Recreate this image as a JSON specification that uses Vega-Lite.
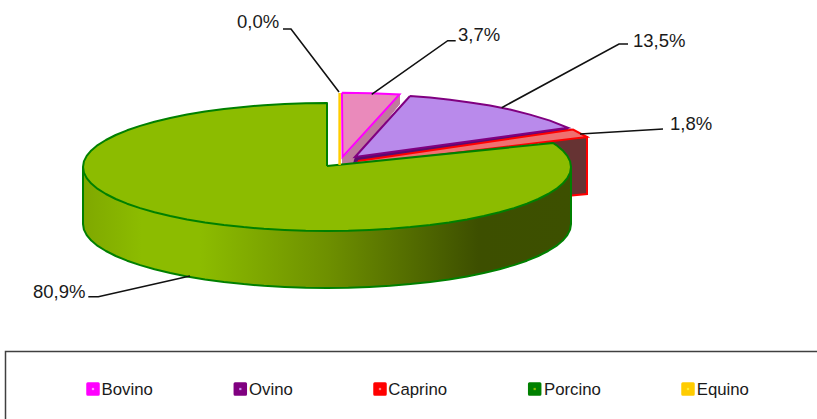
{
"$schema":"https://vega.github.io/schema/vega-lite/v6.json",
"width":817,"height":419,"padding":0,
"autosize":{"type":"none"},
"background":"white",
"config":{"view":{"stroke":null},"font":"Liberation Sans"},
"data":{"name":"contorno"},
"encoding":{
 "x":{"field":"x","type":"quantitative","axis":null,"scale":{"domain":[0,817],"nice":false,"zero":false}},
 "y":{"field":"y","type":"quantitative","axis":null,"scale":{"domain":[419,0],"nice":false,"zero":false}},
 "order":{"field":"i","type":"ordinal"}
},
"layer":[
{"transform":[{"filter":"datum.s==='bovino_lateral'"}],"mark":{"type":"line","fill":"#bf7a9d","stroke":"#bf7a9d","strokeWidth":1}},
{"transform":[{"filter":"datum.s==='bovino_cara'"}],"mark":{"type":"line","fill":"#ea8abb","stroke":"#ff00ff","strokeWidth":2,"strokeJoin":"miter"}},
{"transform":[{"filter":"datum.s==='ovino_lateral'"}],"mark":{"type":"line","fill":"#5c0a6e","stroke":"#800080","strokeWidth":1}},
{"transform":[{"filter":"datum.s==='ovino_cara'"}],"mark":{"type":"line","fill":"#b98aeb","stroke":"#800080","strokeWidth":2,"strokeJoin":"miter"}},
{"transform":[{"filter":"datum.s==='caprino_lateral'"}],"mark":{"type":"line","fill":"#663333","stroke":"#ff0000","strokeWidth":2,"strokeJoin":"miter"}},
{"transform":[{"filter":"datum.s==='caprino_cara'"}],"mark":{"type":"line","fill":"#f07070","stroke":"#ff0000","strokeWidth":2,"strokeJoin":"miter"}},
{"transform":[{"filter":"datum.s==='porcino_lateral'"}],"mark":{"type":"line","stroke":"#008000","strokeWidth":2,"strokeJoin":"round","fill":{"gradient":"linear","x1":0,"y1":0,"x2":1,"y2":0,"stops":[{"offset":0,"color":"#7fa800"},{"offset":0.12,"color":"#8cbc00"},{"offset":0.24,"color":"#8cbc00"},{"offset":0.5,"color":"#6e9000"},{"offset":0.69,"color":"#506800"},{"offset":0.81,"color":"#3d4f00"},{"offset":1,"color":"#3d5000"}]}}},
{"transform":[{"filter":"datum.s==='porcino_cara'"}],"mark":{"type":"line","fill":"#8cbc00","stroke":"#008000","strokeWidth":2,"strokeJoin":"round"}},
{"transform":[{"filter":"datum.s==='equino'"}],"mark":{"type":"line","stroke":"#ffcc00","strokeWidth":2.5}},
{"transform":[{"filter":"datum.s==='g1'"}],"mark":{"type":"line","stroke":"#111111","strokeWidth":1.6}},
{"transform":[{"filter":"datum.s==='g2'"}],"mark":{"type":"line","stroke":"#111111","strokeWidth":1.6}},
{"transform":[{"filter":"datum.s==='g3'"}],"mark":{"type":"line","stroke":"#111111","strokeWidth":1.6}},
{"transform":[{"filter":"datum.s==='g4'"}],"mark":{"type":"line","stroke":"#111111","strokeWidth":1.6}},
{"transform":[{"filter":"datum.s==='g5'"}],"mark":{"type":"line","stroke":"#111111","strokeWidth":1.6}},
{"transform":[{"filter":"datum.s==='marco'"}],"mark":{"type":"line","stroke":"#404040","strokeWidth":1.5,"clip":true}},
{"data":{"name":"etiquetas"},"mark":{"type":"text","align":"left","baseline":"alphabetic","fontSize":18.5,"fill":"#1a1a1a","font":"Liberation Sans"},"encoding":{"text":{"field":"label"}}},
{"data":{"name":"leyenda"},"mark":{"type":"point","shape":"square","filled":true,"size":110,"strokeWidth":3,"strokeJoin":"round"},"encoding":{"x":{"field":"px","type":"quantitative"},"fill":{"field":"especie","type":"nominal","legend":null,"scale":{"domain":["Bovino","Ovino","Caprino","Porcino","Equino"],"range":["#ff00ff","#800080","#ff0000","#008000","#ffcc00"]}},"stroke":{"field":"especie","type":"nominal","legend":null,"scale":{"domain":["Bovino","Ovino","Caprino","Porcino","Equino"],"range":["#ff00ff","#800080","#ff0000","#008000","#ffcc00"]}},"opacity":{"value":1}}},
{"data":{"name":"leyenda"},"mark":{"type":"point","shape":"square","filled":true,"size":5,"opacity":1},"encoding":{"x":{"field":"px","type":"quantitative"},"color":{"field":"punto","type":"nominal","scale":null}}},
{"data":{"name":"leyenda"},"mark":{"type":"text","align":"left","baseline":"alphabetic","fontSize":16.8,"fill":"#1a1a1a","dy":5.5,"font":"Liberation Sans"},"encoding":{"x":{"field":"tx","type":"quantitative"},"text":{"field":"especie"}}}
],
"datasets":{
"etiquetas":[
{"label":"0,0%","x":237,"y":28},
{"label":"3,7%","x":458,"y":41},
{"label":"13,5%","x":633,"y":47},
{"label":"1,8%","x":670,"y":130},
{"label":"80,9%","x":33,"y":298}
],
"leyenda":[
{"especie":"Bovino","pct":3.7,"px":93,"tx":101.5,"y":389,"punto":"#ff99ff"},
{"especie":"Ovino","pct":13.5,"px":240.3,"tx":249,"y":389,"punto":"#c58ff0"},
{"especie":"Caprino","pct":1.8,"px":380,"tx":388.3,"y":389,"punto":"#ff8080"},
{"especie":"Porcino","pct":80.9,"px":534.7,"tx":544,"y":389,"punto":"#8cbc00"},
{"especie":"Equino","pct":0.0,"px":688,"tx":696.7,"y":389,"punto":"#ffee33"}
],
"contorno":[
{"s":"bovino_lateral","i":0,"x":399.5,"y":94.5},{"s":"bovino_lateral","i":1,"x":399.5,"y":104},{"s":"bovino_lateral","i":2,"x":352,"y":163},{"s":"bovino_lateral","i":3,"x":342.5,"y":164},{"s":"bovino_lateral","i":4,"x":342.5,"y":158},
{"s":"bovino_cara","i":0,"x":342,"y":92.8},{"s":"bovino_cara","i":1,"x":371,"y":93.2},{"s":"bovino_cara","i":2,"x":399.5,"y":94.5},{"s":"bovino_cara","i":3,"x":342.5,"y":157},{"s":"bovino_cara","i":4,"x":342,"y":92.8},
{"s":"ovino_lateral","i":0,"x":355,"y":157},{"s":"ovino_lateral","i":1,"x":568,"y":127.7},{"s":"ovino_lateral","i":2,"x":568,"y":130},{"s":"ovino_lateral","i":3,"x":360,"y":161},{"s":"ovino_lateral","i":4,"x":353,"y":163},
{"s":"ovino_cara","i":0,"x":410,"y":96},{"s":"ovino_cara","i":1,"x":430,"y":97.6},{"s":"ovino_cara","i":2,"x":450,"y":99.8},{"s":"ovino_cara","i":3,"x":470,"y":102.4},{"s":"ovino_cara","i":4,"x":490,"y":105.6},{"s":"ovino_cara","i":5,"x":510,"y":109.6},{"s":"ovino_cara","i":6,"x":530,"y":114.6},{"s":"ovino_cara","i":7,"x":550,"y":120.6},{"s":"ovino_cara","i":8,"x":568,"y":127.7},{"s":"ovino_cara","i":9,"x":355,"y":157},{"s":"ovino_cara","i":10,"x":410,"y":96},
{"s":"caprino_lateral","i":0,"x":540,"y":140},{"s":"caprino_lateral","i":1,"x":587,"y":137},{"s":"caprino_lateral","i":2,"x":587,"y":194},{"s":"caprino_lateral","i":3,"x":545,"y":198},{"s":"caprino_lateral","i":4,"x":540,"y":140},
{"s":"caprino_cara","i":0,"x":358,"y":161},{"s":"caprino_cara","i":1,"x":573,"y":129.5},{"s":"caprino_cara","i":2,"x":587,"y":137},{"s":"caprino_cara","i":3,"x":360,"y":164.5},{"s":"caprino_cara","i":4,"x":358,"y":161},

{"s":"porcino_lateral","i":0,"x":83,"y":167},{"s":"porcino_lateral","i":1,"x":83,"y":224},{"s":"porcino_lateral","i":2,"x":83.9,"y":229.6},{"s":"porcino_lateral","i":3,"x":86.7,"y":235.1},{"s":"porcino_lateral","i":4,"x":91.3,"y":240.6},{"s":"porcino_lateral","i":5,"x":97.7,"y":245.9},{"s":"porcino_lateral","i":6,"x":105.9,"y":251},{"s":"porcino_lateral","i":7,"x":115.7,"y":256},{"s":"porcino_lateral","i":8,"x":127.1,"y":260.7},{"s":"porcino_lateral","i":9,"x":140.1,"y":265.1},{"s":"porcino_lateral","i":10,"x":154.5,"y":269.3},{"s":"porcino_lateral","i":11,"x":170.2,"y":273},{"s":"porcino_lateral","i":12,"x":187,"y":276.4},{"s":"porcino_lateral","i":13,"x":205,"y":279.4},{"s":"porcino_lateral","i":14,"x":223.9,"y":282},{"s":"porcino_lateral","i":15,"x":243.6,"y":284.1},{"s":"porcino_lateral","i":16,"x":263.9,"y":285.8},{"s":"porcino_lateral","i":17,"x":284.6,"y":287},{"s":"porcino_lateral","i":18,"x":305.7,"y":287.8},{"s":"porcino_lateral","i":19,"x":327,"y":288},{"s":"porcino_lateral","i":20,"x":348.3,"y":287.8},{"s":"porcino_lateral","i":21,"x":369.4,"y":287},{"s":"porcino_lateral","i":22,"x":390.1,"y":285.8},{"s":"porcino_lateral","i":23,"x":410.4,"y":284.1},{"s":"porcino_lateral","i":24,"x":430.1,"y":282},{"s":"porcino_lateral","i":25,"x":449,"y":279.4},{"s":"porcino_lateral","i":26,"x":467,"y":276.4},{"s":"porcino_lateral","i":27,"x":483.8,"y":273},{"s":"porcino_lateral","i":28,"x":499.5,"y":269.3},{"s":"porcino_lateral","i":29,"x":513.9,"y":265.1},{"s":"porcino_lateral","i":30,"x":526.9,"y":260.7},{"s":"porcino_lateral","i":31,"x":538.3,"y":256},{"s":"porcino_lateral","i":32,"x":548.1,"y":251},{"s":"porcino_lateral","i":33,"x":556.3,"y":245.9},{"s":"porcino_lateral","i":34,"x":562.7,"y":240.6},{"s":"porcino_lateral","i":35,"x":567.3,"y":235.1},{"s":"porcino_lateral","i":36,"x":570.1,"y":229.6},{"s":"porcino_lateral","i":37,"x":571,"y":224},{"s":"porcino_lateral","i":38,"x":571,"y":167},{"s":"porcino_lateral","i":39,"x":83,"y":167},

{"s":"porcino_cara","i":0,"x":327,"y":166},{"s":"porcino_cara","i":1,"x":327,"y":103},{"s":"porcino_cara","i":2,"x":305.7,"y":103.2},{"s":"porcino_cara","i":3,"x":284.6,"y":104},{"s":"porcino_cara","i":4,"x":263.9,"y":105.2},{"s":"porcino_cara","i":5,"x":243.6,"y":106.9},{"s":"porcino_cara","i":6,"x":223.9,"y":109},{"s":"porcino_cara","i":7,"x":205,"y":111.6},{"s":"porcino_cara","i":8,"x":187,"y":114.6},{"s":"porcino_cara","i":9,"x":170.2,"y":118},{"s":"porcino_cara","i":10,"x":154.5,"y":121.7},{"s":"porcino_cara","i":11,"x":140.1,"y":125.9},{"s":"porcino_cara","i":12,"x":127.1,"y":130.3},{"s":"porcino_cara","i":13,"x":115.7,"y":135},{"s":"porcino_cara","i":14,"x":105.9,"y":140},{"s":"porcino_cara","i":15,"x":97.7,"y":145.1},{"s":"porcino_cara","i":16,"x":91.3,"y":150.4},{"s":"porcino_cara","i":17,"x":86.7,"y":155.9},{"s":"porcino_cara","i":18,"x":83.9,"y":161.4},{"s":"porcino_cara","i":19,"x":83,"y":167},{"s":"porcino_cara","i":20,"x":83.9,"y":172.6},{"s":"porcino_cara","i":21,"x":86.7,"y":178.1},{"s":"porcino_cara","i":22,"x":91.3,"y":183.6},{"s":"porcino_cara","i":23,"x":97.7,"y":188.9},{"s":"porcino_cara","i":24,"x":105.9,"y":194},{"s":"porcino_cara","i":25,"x":115.7,"y":199},{"s":"porcino_cara","i":26,"x":127.1,"y":203.7},{"s":"porcino_cara","i":27,"x":140.1,"y":208.1},{"s":"porcino_cara","i":28,"x":154.5,"y":212.3},{"s":"porcino_cara","i":29,"x":170.2,"y":216},{"s":"porcino_cara","i":30,"x":187,"y":219.4},{"s":"porcino_cara","i":31,"x":205,"y":222.4},{"s":"porcino_cara","i":32,"x":223.9,"y":225},{"s":"porcino_cara","i":33,"x":243.6,"y":227.1},{"s":"porcino_cara","i":34,"x":263.9,"y":228.8},{"s":"porcino_cara","i":35,"x":284.6,"y":230},{"s":"porcino_cara","i":36,"x":305.7,"y":230.8},{"s":"porcino_cara","i":37,"x":327,"y":231},{"s":"porcino_cara","i":38,"x":348.3,"y":230.8},{"s":"porcino_cara","i":39,"x":369.4,"y":230},{"s":"porcino_cara","i":40,"x":390.1,"y":228.8},{"s":"porcino_cara","i":41,"x":410.4,"y":227.1},{"s":"porcino_cara","i":42,"x":430.1,"y":225},{"s":"porcino_cara","i":43,"x":449,"y":222.4},{"s":"porcino_cara","i":44,"x":467,"y":219.4},{"s":"porcino_cara","i":45,"x":483.8,"y":216},{"s":"porcino_cara","i":46,"x":499.5,"y":212.3},{"s":"porcino_cara","i":47,"x":513.9,"y":208.1},{"s":"porcino_cara","i":48,"x":526.9,"y":203.7},{"s":"porcino_cara","i":49,"x":538.3,"y":199},{"s":"porcino_cara","i":50,"x":548.1,"y":194},{"s":"porcino_cara","i":51,"x":556.3,"y":188.9},{"s":"porcino_cara","i":52,"x":562.7,"y":183.6},{"s":"porcino_cara","i":53,"x":567.3,"y":178.1},{"s":"porcino_cara","i":54,"x":570.1,"y":172.6},{"s":"porcino_cara","i":55,"x":571,"y":167},{"s":"porcino_cara","i":56,"x":570.1,"y":161.4},{"s":"porcino_cara","i":57,"x":567.3,"y":155.9},{"s":"porcino_cara","i":58,"x":562.7,"y":150.4},{"s":"porcino_cara","i":59,"x":556.3,"y":145.1},{"s":"porcino_cara","i":60,"x":553,"y":143},{"s":"porcino_cara","i":61,"x":327,"y":166},

{"s":"equino","i":0,"x":339.6,"y":93},{"s":"equino","i":1,"x":339.6,"y":165},
{"s":"g1","i":0,"x":283,"y":29},{"s":"g1","i":1,"x":291,"y":29},{"s":"g1","i":2,"x":339,"y":92},
{"s":"g2","i":0,"x":455.7,"y":40.7},{"s":"g2","i":1,"x":447.7,"y":40.7},{"s":"g2","i":2,"x":371.7,"y":94.3},
{"s":"g3","i":0,"x":628,"y":44},{"s":"g3","i":1,"x":619,"y":44},{"s":"g3","i":2,"x":501.7,"y":107.7},
{"s":"g4","i":0,"x":663,"y":129},{"s":"g4","i":1,"x":655,"y":129.5},{"s":"g4","i":2,"x":580,"y":134},
{"s":"g5","i":0,"x":88.3,"y":296.7},{"s":"g5","i":1,"x":98.3,"y":296.7},{"s":"g5","i":2,"x":190,"y":276},
{"s":"marco","i":0,"x":5.5,"y":419},{"s":"marco","i":1,"x":5.5,"y":351.6},{"s":"marco","i":2,"x":817,"y":351.6}
]
}
}
